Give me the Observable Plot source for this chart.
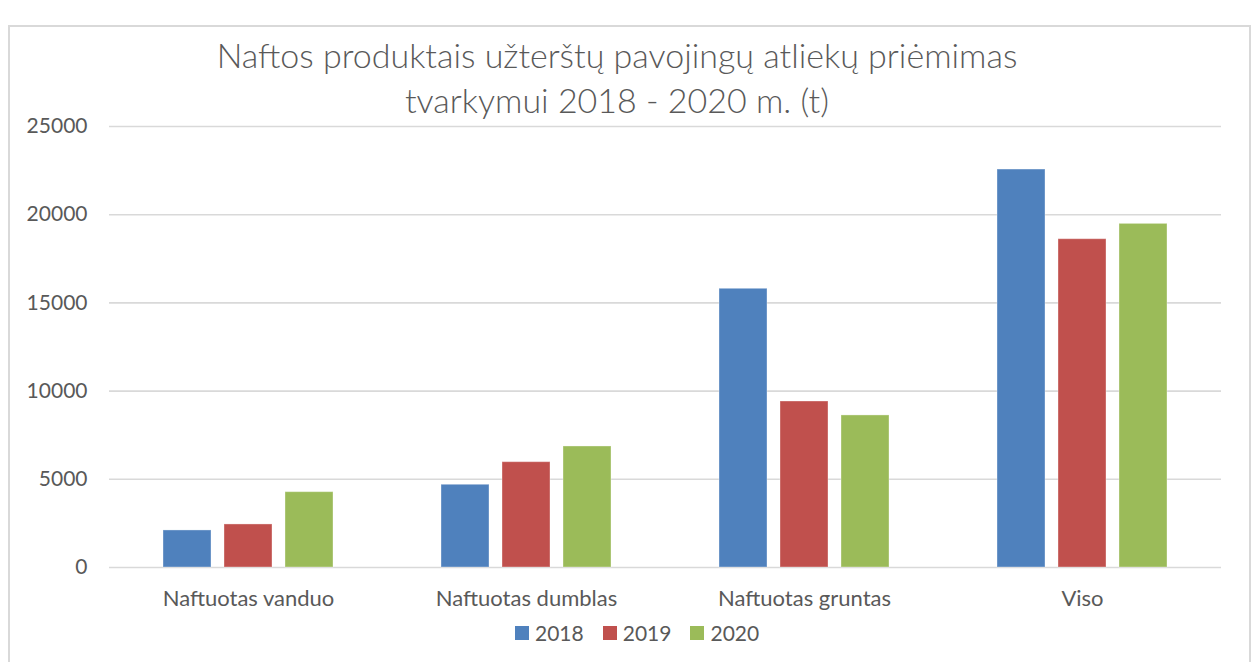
<!DOCTYPE html>
<html>
<head>
<meta charset="utf-8">
<script src="https://cdn.jsdelivr.net/npm/d3@7"></script>
<script src="https://cdn.jsdelivr.net/npm/@observablehq/plot@0.6"></script>
<style>
  html, body { margin: 0; padding: 0; background: #fff; }
  body { width: 1252px; height: 662px; position: relative; overflow: hidden; font-family: Lato, "Open Sans", sans-serif; color: #595959; }
  #frame { position: absolute; left: 8px; top: 25px; width: 1243px; height: 700px; border: 2px solid #d9d9d9; box-sizing: border-box; }
  #title { position: absolute; left: 0; top: 32px; width: 1234px; text-align: center; font-size: 34px; font-weight: 300; line-height: 45px; color: #595959; }
  #chart { position: absolute; left: 0; top: 0; }
  #legend { position: absolute; left: 515px; top: 622px; display: flex; align-items: center; font-size: 21px; line-height: 21px; height: 21px; }
  #legend .item { display: flex; align-items: center; margin-right: 19px; }
  #legend .sw { width: 14px; height: 14px; margin-right: 6px; }
</style>
</head>
<body>
<div id="frame"></div>
<div id="chart"></div>
<div id="title">Naftos produktais užterštų pavojingų atliekų priėmimas<br>tvarkymui 2018 - 2020 m. (t)</div>
<div id="legend"></div>
<script>
const categories = ["Naftuotas vanduo", "Naftuotas dumblas", "Naftuotas gruntas", "Viso"];
const years = ["2018", "2019", "2020"];
const values2018 = [2100, 4690, 15800, 22560];
const values2019 = [2440, 5970, 9410, 18610];
const values2020 = [4270, 6860, 8620, 19480];
const colors = ["#4F81BD", "#C0504D", "#9BBB59"];
const yTicks = [0, 5000, 10000, 15000, 20000, 25000];

const series = [values2018, values2019, values2020];
const data = [];
categories.forEach((c, i) => {
  years.forEach((y, j) => data.push({category: c, year: y, value: series[j][i]}));
});

const chart = Plot.plot({
  width: 1252,
  height: 620,
  marginTop: 126,
  marginBottom: 53,
  marginLeft: 108,
  marginRight: 31,
  style: {fontFamily: "Lato, 'Open Sans', sans-serif", fontSize: "22px", color: "#595959", background: "transparent"},
  fx: {domain: categories, padding: 0, label: null},
  x: {domain: years, paddingInner: 0.22, paddingOuter: 0.87, axis: null},
  y: {domain: [0, 25000], label: null},
  color: {domain: years, range: colors},
  marks: [
    Plot.gridY(yTicks, {stroke: "#d9d9d9", strokeOpacity: 1, strokeWidth: 1.6}),
    Plot.axisY(yTicks, {tickSize: 0, tickPadding: 22, tickFormat: d => String(d), label: null, fontSize: 21}),
    Plot.barY(data, {fx: "category", x: "year", y: "value", fill: "year", stroke: "white", strokeOpacity: 0.35, strokeWidth: 1}),
    Plot.axisFx({anchor: "bottom", tickSize: 0, tickPadding: 23, label: null, fontSize: 22})
  ]
});
document.getElementById("chart").appendChild(chart);

const legend = document.getElementById("legend");
years.forEach((y, i) => {
  const item = document.createElement("div");
  item.className = "item";
  const sw = document.createElement("div");
  sw.className = "sw";
  sw.style.background = colors[i];
  const t = document.createElement("span");
  t.textContent = y;
  item.appendChild(sw);
  item.appendChild(t);
  legend.appendChild(item);
});
</script>
</body>
</html>
